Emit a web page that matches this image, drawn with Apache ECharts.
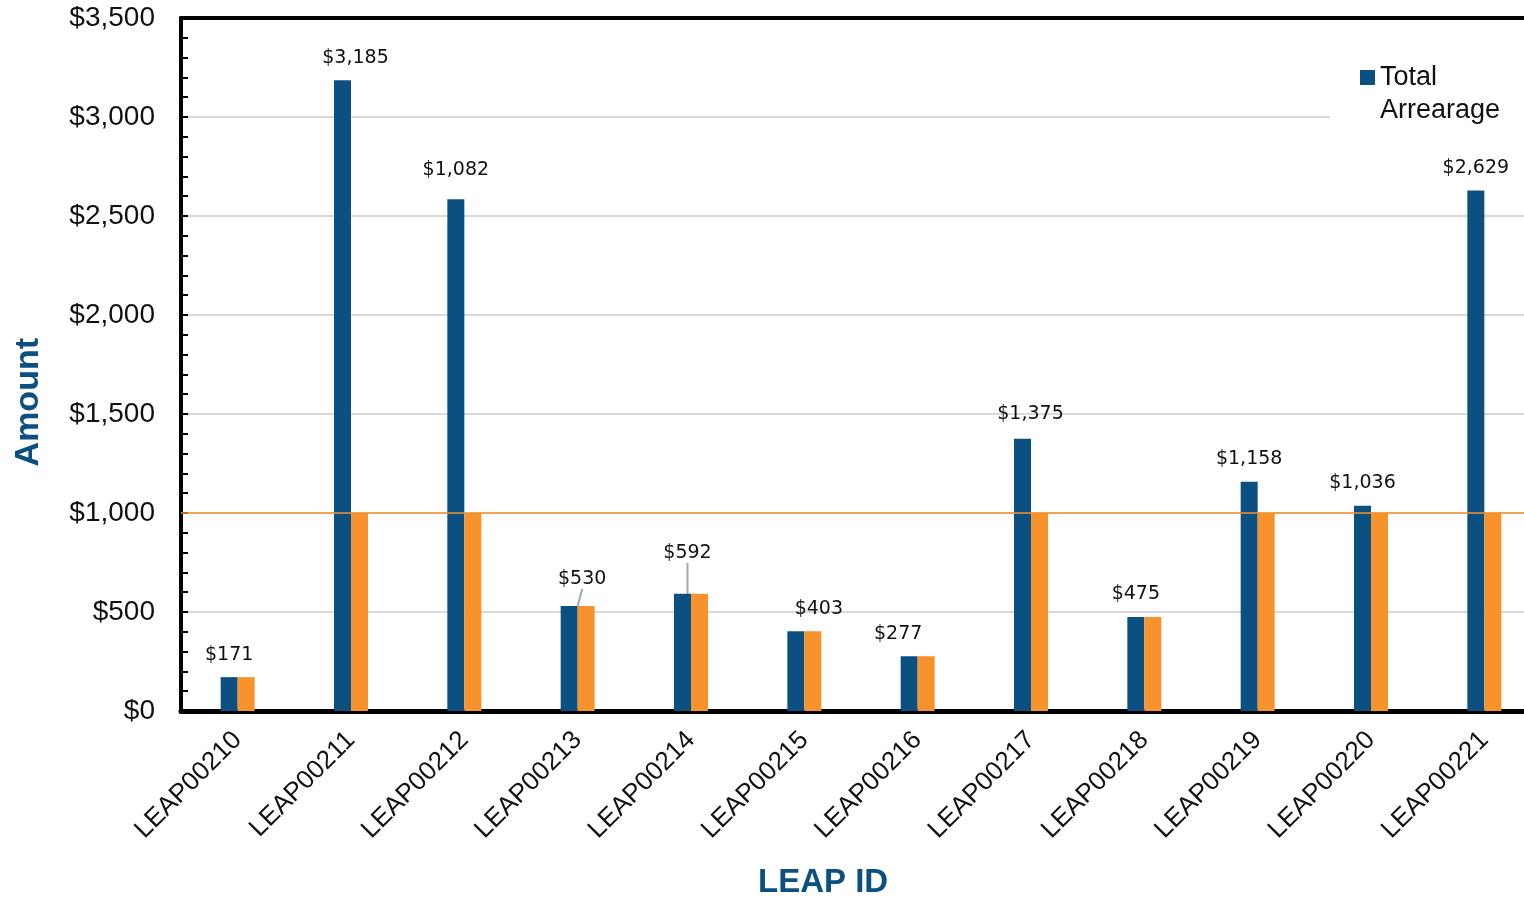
<!DOCTYPE html>
<html>
<head>
<meta charset="utf-8">
<script src="https://cdn.jsdelivr.net/npm/echarts@6/dist/echarts.min.js"></script>
<style>html,body{margin:0;padding:0;background:#fff}#c{width:1524px;height:901px}</style>
</head>
<body>
<div id="c"></div>
<script>
const categories = ['LEAP00210','LEAP00211','LEAP00212','LEAP00213','LEAP00214','LEAP00215','LEAP00216','LEAP00217','LEAP00218','LEAP00219','LEAP00220','LEAP00221'];
const totalArrearage = [171, 3185, 2585, 530, 592, 403, 277, 1375, 475, 1158, 1036, 2629];
const cappedAmount = [171, 1000, 1000, 530, 592, 403, 277, 1000, 475, 1000, 1000, 1000];
const labelTexts = ['$171','$3,185','$1,082','$530','$592','$403','$277','$1,375','$475','$1,158','$1,036','$2,629'];
const yTicks = [0, 500, 1000, 1500, 2000, 2500, 3000, 3500];
const capLine = 1000;

const BLUE = '#0B5080', ORANGE = '#F7922D';
const labelShift = {1:{dx:13,dy:0},2:{dx:0,dy:-7},3:{dx:13,dy:-4},4:{dx:5,dy:-18},5:{dx:23,dy:0},6:{dx:-11,dy:0},7:{dx:8,dy:-2}};
const leaderIdx = [3, 4];

const chart = echarts.init(document.getElementById('c'));
chart.setOption({
  animation: false,
  backgroundColor: '#fff',
  grid: {left: 181, top: 18, width: 1360, bottom: 190, containLabel: false, outerBoundsMode: 'none'},
  legend: {
    data: ['Total Arrearage'],
    left: 1330, top: 26,
    orient: 'vertical',
    icon: 'rect', itemWidth: 15, itemHeight: 15, itemGap: 4,
    backgroundColor: '#fff', padding: [2, 30, 2, 30],
    textStyle: {fontFamily: 'Liberation Sans', fontSize: 27, color: '#111', lineHeight: 33},
    formatter: () => ' \nTotal\nArrearage'
  },
  xAxis: [{
    type: 'category', data: categories,
    axisLine: {lineStyle: {color: '#000', width: 5}},
    axisTick: {show: false},
    axisLabel: {rotate: 45, fontFamily: 'Liberation Sans', fontSize: 26, color: '#111', margin: 25, interval: 0},
    splitLine: {show: false}
  }, {
    type: 'category', data: categories, position: 'top',
    axisLine: {lineStyle: {color: '#000', width: 4}},
    axisTick: {show: false}, axisLabel: {show: false}
  }],
  yAxis: {
    type: 'value', min: 0, max: 3500, interval: 500,
    axisLine: {show: true, lineStyle: {color: '#000', width: 4}},
    axisTick: {show: true, inside: true, length: 7, lineStyle: {color: '#000', width: 2}},
    minorTick: {show: true, splitNumber: 5, length: 7, lineStyle: {color: '#000', width: 2}},
    axisLabel: {fontFamily: 'Liberation Sans', fontSize: 28, color: '#111', margin: 26,
      formatter: v => yTicks.includes(v) ? '$' + v.toLocaleString('en-US') : ''},
    splitLine: {lineStyle: {color: '#d9d9d9', width: 2}}
  },
  graphic: [
    {type: 'text', left: 12, top: 338, rotation: Math.PI / 2, style: {text: 'Amount', font: 'bold 34px "Liberation Sans"', fill: '#0B5080'}},
    {type: 'text', left: 758, top: 866, style: {text: 'LEAP ID', font: 'bold 33px "Liberation Sans"', fill: '#0B5080'}}
  ],
  series: [{
    name: 'Total Arrearage', type: 'bar',
    data: totalArrearage.map((v, i) => ({value: v, labelLine: {show: leaderIdx.includes(i)}})),
    barWidth: 17, barGap: '0%',
    itemStyle: {color: BLUE},
    label: {show: true, position: 'top', distance: 13, fontFamily: 'DejaVu Sans', fontSize: 19, color: '#111',
      formatter: p => labelTexts[p.dataIndex]},
    labelLine: {show: false, lineStyle: {color: '#a6a6a6', width: 2}},
    labelLayout: p => labelShift[p.dataIndex] || {dx: 0, dy: 0},
    markLine: {
      silent: true, symbol: 'none', label: {show: false},
      lineStyle: {color: '#F7922D', width: 1.5, type: 'solid'},
      data: [{yAxis: capLine}]
    }
  }, {
    name: 'Cap', type: 'bar', data: cappedAmount,
    barWidth: 17, barGap: '0%',
    itemStyle: {color: ORANGE}
  }]
});
</script>
</body>
</html>
